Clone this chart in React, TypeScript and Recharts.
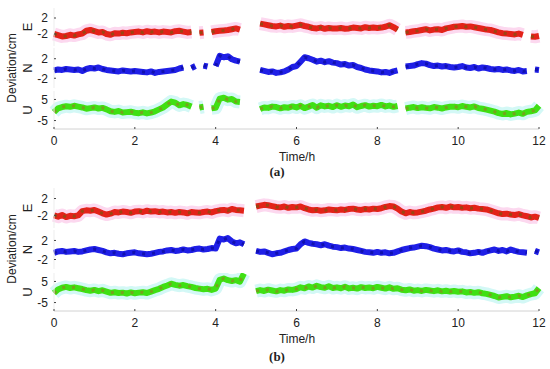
import React from "react";
import { LineChart, Line, XAxis, YAxis } from "recharts";

// time axis, one sample every 0.1 h
const TIME = Array.from({ length: 121 }, (_, i) => i / 10);
const X_TICKS = [0, 2, 4, 6, 8, 10, 12];

// (a) deviations, cm
const A_E = [
  -2.0, -2.3, -2.6, -2.5, -2.2, -2.4, -2.1, -1.9, -1.2, -1.0,
  -1.3, -1.6, -1.5, -2.0, -2.2, -1.8, -1.9, -1.7, -1.8, -1.6,
  -1.5, -1.4, -1.6, -1.3, -1.5, -1.4, -1.6, -1.4, -1.5, -1.6,
  -1.3, -1.2, -1.4, -1.6, -1.5, null, -1.7, -1.6, null, -1.5,
  -1.3, -1.2, -1.1, -1.0, -0.8, -0.6, -0.9, null, null, null,
  null, 0.6, 0.4, 0.2, 0.0, -0.1, 0.1, -0.2, 0.0, -0.1,
  0.1, 0.3, 0.0, -0.2, -0.5, -0.6, -0.4, -0.7, -0.5, -0.6,
  -0.6, -0.5, -0.7, -0.6, -0.4, -0.5, -0.6, -0.3, -0.5, -0.4,
  -0.5, -0.4, -0.2, 0.2, -0.3, -0.9, null, -1.6, -1.5, -1.3,
  -1.2, -1.0, -0.8, -1.1, -0.9, -0.8, -1.0, -0.6, -0.4, -0.2,
  -0.1, 0.0, -0.2, -0.1, -0.3, -0.5, -0.7, -0.9, -1.0, -1.3,
  -1.6, -1.8, -1.9, -2.0, -2.1, -1.9, -2.2, null, -2.6, -2.7,
  -2.5,
];
const A_N = [
  -0.4, -0.2, -0.3, -0.1, -0.2, -0.3, -0.2, -0.5, -0.1, 0.1,
  0.0, 0.2, -0.1, -0.3, -0.4, -0.5, -0.6, -0.4, -0.5, -0.6,
  -0.5, -0.6, -0.7, -0.8, -0.6, -0.9, -0.7, -0.6, -0.5, -0.4,
  -0.3, 0.0, 0.2, null, 0.1, 0.5, null, 0.6, 0.4, null,
  0.5, 2.6, 2.3, 2.5, 1.9, 1.6, 1.4, null, null, null,
  null, -0.3, -0.5, -0.7, -0.6, -0.9, -0.8, -0.6, -0.2, 0.3,
  0.5, 1.4, 2.3, 2.1, 1.8, 1.4, 1.6, 1.3, 1.5, 1.2,
  1.1, 0.8, 0.9, 0.6, 0.7, 0.3, 0.1, -0.2, -0.4, -0.5,
  -0.6, -0.8, -0.7, -0.9, -0.6, -0.4, null, 0.4, 0.5, 0.6,
  0.9, 1.1, 1.0, 0.7, 0.5, 0.6, 0.4, 0.5, 0.3, 0.2,
  0.3, 0.5, 0.2, 0.1, 0.3, 0.0, 0.2, 0.1, -0.1, -0.2,
  -0.1, -0.3, -0.2, -0.4, -0.5, -0.3, -0.6, -0.5, null, -0.2,
  -0.3,
];
const A_U = [
  -1.0, 0.8, 1.4, 1.8, 1.5, 2.0, 1.6, 1.2, 0.6, 0.9,
  1.2, 0.7, 1.0, 0.3, -0.6, -0.9, -0.5, -1.2, -1.0, -0.8,
  -1.3, -1.5, -1.1, -1.6, -1.2, -0.6, 0.3, 1.2, 2.6, 4.0,
  3.5, 2.2, 2.8, 2.4, 1.6, null, 1.2, 1.5, null, 0.8,
  1.0, 5.4, 5.8, 4.9, 5.2, 4.0, 3.8, null, null, null,
  null, 0.5, 1.2, 1.0, 1.6, 1.4, 0.8, 1.3, 1.1, 1.7,
  1.2, 2.0, 0.9, 1.6, 2.4, 1.1, 2.2, 1.7, 2.0, 1.4,
  2.3, 1.5, 2.1, 1.8, 2.6, 1.3, 1.9, 2.3, 1.6, 2.0,
  1.8, 2.4, 1.7, 2.1, 1.5, 1.9, null, 0.7, 1.1, 1.4,
  0.9, 1.3, 1.0, 0.8, 1.4, 1.1, 0.7, 1.2, 1.5, 1.6,
  1.3, 1.9, 1.5, 1.2, 1.7, 0.9, 0.6, 0.2, -0.3, -0.8,
  -1.5, -1.9, -1.4, -2.1, -1.7, -1.2, -1.8, -0.9, -0.6, -0.2,
  2.0,
];

// (b) deviations, cm
const B_E = [
  -2.0, -2.3, -1.9, -2.4, -2.1, -2.2, -2.0, -1.0, -0.8, -0.9,
  -0.7, -1.1, -1.5, -1.8, -1.6, -1.2, -1.3, -1.1, -1.2, -1.4,
  -1.1, -1.0, -1.2, -0.9, -1.1, -1.0, -1.2, -1.1, -1.3, -1.2,
  -1.4, -1.2, -1.3, -1.5, -1.2, -1.3, -1.4, -1.2, -1.1, -1.3,
  -1.0, -0.8, -0.7, -0.9, -0.5, -0.7, -0.8, -0.9, null, null,
  0.1, 0.3, 0.5, 0.4, 0.2, 0.0, -0.1, 0.1, -0.2, 0.0,
  -0.1, 0.1, -0.3, -0.6, -0.8, -0.7, -0.9, -0.8, -0.6, -0.7,
  -0.8, -0.6, -0.7, -0.5, -0.4, -0.6, -0.7, -0.5, -0.6, -0.4,
  -0.5, -0.3, 0.0, 0.2, 0.1, -0.4, -1.1, -1.5, -1.2, -1.4,
  -1.3, -1.1, -0.9, -0.6, -0.4, -0.1, 0.0, -0.2, 0.1, -0.1,
  0.0, -0.2, -0.1, -0.3, -0.2, -0.4, -0.5, -0.6, -0.9, -1.2,
  -1.5, -1.7, -1.6, -1.8, -1.9, -1.7, -2.0, -2.2, -2.5, -2.3,
  -2.6,
];
const B_N = [
  -0.6, -0.3, -0.2, -0.4, -0.3, -0.2, -0.4, -0.3, -0.1, 0.1,
  0.2, 0.0, -0.2, -0.5, -0.7, -0.6, -0.8, -0.9, -0.7, -0.6,
  -0.5, -0.7, -0.8, -0.9, -0.8, -0.6, -0.4, -0.3, -0.1, 0.0,
  -0.2, -0.1, 0.1, -0.1, 0.0, 0.2, 0.3, 0.1, 0.2, 0.4,
  0.3, 2.4, 2.2, 2.5, 1.8, 1.4, 1.6, 1.2, null, null,
  -0.2, -0.4, -0.3, -0.6, -0.9, -0.7, -0.6, -0.3, 0.0, 0.2,
  0.3, 1.2, 1.8, 1.5, 1.3, 1.2, 1.0, 1.2, 0.9, 0.7,
  0.6, 0.4, 0.5, 0.3, 0.2, 0.0, -0.2, -0.4, -0.5, -0.6,
  -0.4, -0.6, -0.5, -0.7, -0.6, -0.3, 0.0, 0.2, 0.4, 0.5,
  0.7, 0.9, 0.8, 0.6, 0.3, 0.1, -0.1, 0.0, -0.2, -0.3,
  -0.1, -0.4, -0.5, -0.7, -0.6, -0.4, -0.6, -0.3, -0.1, 0.1,
  -0.2, 0.0, -0.3, 0.1, -0.2, -0.4, -0.5, -0.6, null, -0.2,
  -0.5,
];
const B_U = [
  -0.5, 1.2, 2.0, 2.4, 1.9, 2.2, 1.8, 1.4, 0.9, 0.6,
  1.0, 0.4, 0.8, 0.2, -0.4, -0.1, -0.5, -0.3, -0.7, -0.2,
  -0.6, -0.3, -0.1, -0.5, 0.2, 0.9, 1.5, 2.4, 3.1, 3.9,
  3.4, 3.0, 3.3, 2.8, 2.4, 1.9, 1.6, 1.3, 1.5, 1.0,
  1.6, 5.8, 6.4, 5.6, 5.2, 5.6, 4.9, 8.8, null, null,
  0.4, 0.9, 0.5, 1.1, 0.7, 0.3, 0.9, 0.6, 1.2, 1.0,
  1.4, 2.2, 1.8, 2.6, 2.1, 2.9, 2.3, 2.0, 2.7, 1.9,
  2.2, 1.8, 2.5, 1.7, 2.0, 1.6, 2.3, 1.9, 2.1, 1.8,
  2.4, 2.0, 1.6, 2.2, 1.5, 1.8, 1.1, 0.8, 1.2, 0.6,
  0.9, 0.5, 1.0, 0.7, 0.4, 0.8, 0.3, 0.6, 0.2, 0.5,
  0.1, 0.3, -0.2, 0.0, -0.4, -0.1, -0.6, -0.9, -1.4, -1.9,
  -2.6, -2.3, -2.0, -2.5, -2.2, -1.8, -2.4, -1.6, -1.0, -0.6,
  1.8,
];

const rows = TIME.map((t, i) => ({
  t,
  aE: A_E[i],
  aN: A_N[i],
  aU: A_U[i],
  bE: B_E[i],
  bN: B_N[i],
  bU: B_U[i],
}));

const FONT = "'Liberation Sans', Arial, sans-serif";

const XTick = (props: any) => {
  const { x, y, payload, showLabel } = props;
  return (
    <g>
      <line x1={x} x2={x} y1={y - 2} y2={y} stroke="#444" />
      {showLabel && (
        <text x={x} y={y + 16} textAnchor="middle" fontSize={12} fontFamily={FONT} fill="#222">
          {payload.value}
        </text>
      )}
    </g>
  );
};

const YTickLeft = (props: any) => {
  const { x, y, payload } = props;
  return (
    <g>
      <line x1={x} x2={x + 2} y1={y} y2={y} stroke="#444" />
      <text x={x - 6} y={y} dy="0.36em" textAnchor="end" fontSize={12} fontFamily={FONT} fill="#222">
        {payload.value}
      </text>
    </g>
  );
};

const YTickRight = (props: any) => {
  const { x, y } = props;
  return <line x1={x - 2} x2={x} y1={y} y2={y} stroke="#444" />;
};

type SubProps = {
  top: number;
  height: number;
  dataKey: string;
  domain: [number, number];
  ticks: number[];
  color: string;
  dark: string;
  halo?: string;
  showX?: boolean;
};

function Subplot({ top, height, dataKey, domain, ticks, color, dark, halo, showX }: SubProps) {
  const axisH = showX ? 22 : 0;
  return (
    <div style={{ position: "absolute", left: 0, top }}>
      <LineChart
        width={550}
        height={height + axisH}
        data={rows}
        margin={{ top: 0, right: 11, bottom: 0, left: 0 }}
      >
        <XAxis
          dataKey="t"
          type="number"
          domain={[0, 12]}
          ticks={X_TICKS}
          interval={0}
          height={axisH}
          tickSize={0}
          tickMargin={0}
          tickLine={false}
          axisLine={{ stroke: "#d2d2d2" }}
          tick={<XTick showLabel={showX} />}
        />
        <XAxis
          xAxisId="top"
          orientation="top"
          dataKey="t"
          type="number"
          domain={[0, 12]}
          height={0}
          tick={false}
          tickLine={false}
          axisLine={{ stroke: "#d2d2d2" }}
        />
        <YAxis
          domain={domain}
          ticks={ticks}
          interval={0}
          minTickGap={0}
          width={54}
          tickSize={0}
          tickMargin={0}
          tickLine={false}
          allowDataOverflow
          axisLine={{ stroke: "#ededed" }}
          tick={<YTickLeft />}
        />
        <YAxis
          yAxisId="right"
          orientation="right"
          domain={domain}
          ticks={ticks}
          interval={0}
          width={0}
          tickSize={0}
          tickMargin={0}
          tickLine={false}
          axisLine={{ stroke: "#ededed" }}
          tick={<YTickRight />}
        />
        {halo && (
          <Line
            dataKey={dataKey}
            stroke={halo}
            strokeWidth={13}
            dot={false}
            isAnimationActive={false}
            strokeLinejoin="round"
          />
        )}
        <Line
          dataKey={dataKey}
          stroke={color}
          strokeWidth={6}
          dot={false}
          isAnimationActive={false}
          strokeLinejoin="round"
        />
        <Line
          dataKey={dataKey}
          stroke={dark}
          strokeWidth={3}
          strokeDasharray="3 7"
          dot={false}
          isAnimationActive={false}
        />
      </LineChart>
    </div>
  );
}

const RED = "#e32219";
const BROWN = "#9c4412";
const BLUE = "#1f1fe6";
const NAVY = "#1010b0";
const GREEN = "#3fe013";
const OLIVE = "#74a41c";

function Panel({ y0, keys }: { y0: number; keys: string[] }) {
  const d = y0 === 0 ? [8, 38, 48, 40, 91, 38] : [188, 40, 230, 39, 273, 38];
  return (
    <>
      <Subplot top={d[0]} height={d[1]} dataKey={keys[0]} domain={[-5, 4.5]} ticks={[-2, 2]} color={RED} dark={BROWN} halo="#fcd8ef" />
      <Subplot top={d[2]} height={d[3]} dataKey={keys[1]} domain={[-4, 4.2]} ticks={[-2, 2]} color={BLUE} dark={NAVY} />
      <Subplot top={d[4]} height={d[5]} dataKey={keys[2]} domain={[-9, 9]} ticks={[-5, 5]} color={GREEN} dark={OLIVE} halo="#d3f8f6" showX />
    </>
  );
}

export default function App() {
  const labels = [
    { dev: 68, e: 27, n: 68, u: 110, time: 161, tag: 176, text: "(a)" },
    { dev: 249, e: 208, n: 249.5, u: 292, time: 343, tag: 361, text: "(b)" },
  ];
  return (
    <div style={{ position: "absolute", left: 0, top: 0, width: 550, height: 369, background: "#fff" }}>
      <Panel y0={0} keys={["aE", "aN", "aU"]} />
      <Panel y0={180} keys={["bE", "bN", "bU"]} />
      <svg width={550} height={369} style={{ position: "absolute", left: 0, top: 0, pointerEvents: "none" }}>
        {labels.map((l) => (
          <g key={l.text} fontFamily={FONT} fill="#222">
            <text x={12} y={l.dev} transform={`rotate(-90 12 ${l.dev})`} textAnchor="middle" dy="0.36em" fontSize={12}>
              Deviation/cm
            </text>
            <text x={27} y={l.e} transform={`rotate(-90 27 ${l.e})`} textAnchor="middle" dy="0.36em" fontSize={13}>E</text>
            <text x={27} y={l.n} transform={`rotate(-90 27 ${l.n})`} textAnchor="middle" dy="0.36em" fontSize={13}>N</text>
            <text x={27} y={l.u} transform={`rotate(-90 27 ${l.u})`} textAnchor="middle" dy="0.36em" fontSize={13}>U</text>
            <text x={297} y={l.time} textAnchor="middle" fontSize={12}>Time/h</text>
            <text x={277} y={l.tag} textAnchor="middle" fontSize={13} fontWeight="bold" fontFamily="'Liberation Serif', 'Times New Roman', serif">
              {l.text}
            </text>
          </g>
        ))}
      </svg>
    </div>
  );
}
